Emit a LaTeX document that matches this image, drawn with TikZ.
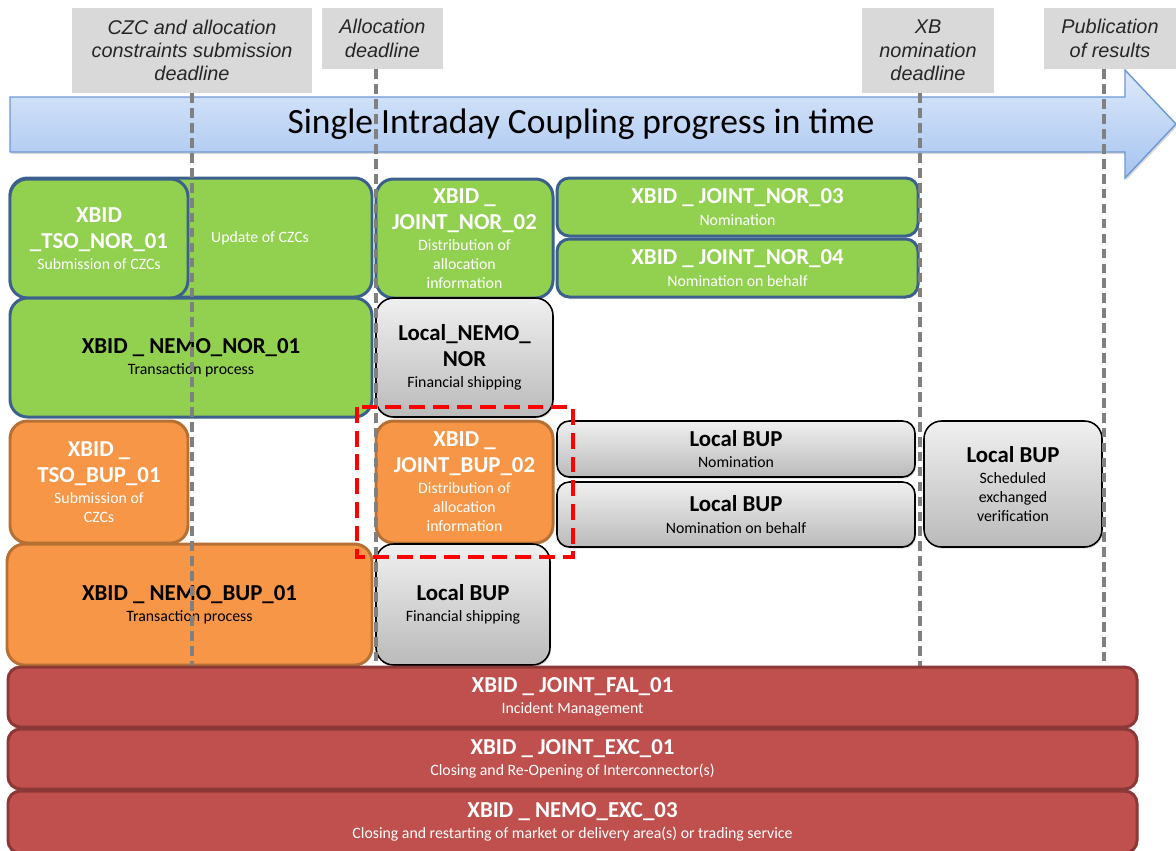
\documentclass[tikz,border=0pt]{standalone}
\usepackage{fontspec}
\setmainfont{Carlito}
\newfontfamily\arialfont{Liberation Sans}
\usepackage{tikz}
\usetikzlibrary{shadows}
\definecolor{boxgreen}{RGB}{146,208,80}
\definecolor{greenline}{RGB}{60,96,140}
\definecolor{boxorange}{RGB}{247,150,70}
\definecolor{orangeline}{RGB}{182,112,52}
\definecolor{boxred}{RGB}{192,80,77}
\definecolor{redline}{RGB}{140,56,54}
\definecolor{labelgray}{RGB}{217,217,217}
\definecolor{linegray}{RGB}{128,128,128}
\definecolor{arrowtop}{RGB}{221,233,251}
\definecolor{arrowbottom}{RGB}{166,196,239}
\definecolor{arrowline}{RGB}{108,152,214}
\newcommand{\ttl}[1]{{\fontsize{13}{15}\selectfont\bfseries #1}}
\tikzset{
  sz/.style 2 args={minimum width=#1*0.02cm, minimum height=#2*0.02cm},
  task/.style={rounded corners=10pt, line width=1.7pt, inner sep=0pt, align=center,
    font=\fontsize{9}{10.8}\selectfont},
  greenbox/.style={task, fill=boxgreen, draw=greenline, text=white},
  orangebox/.style={task, fill=boxorange, draw=orangeline, text=white},
  localbox/.style={task, line width=0.9pt, draw=black, top color=black!6, bottom color=black!27,
    text=black, drop shadow={opacity=0.3, shadow xshift=0.6pt, shadow yshift=-0.9pt}},
  redbox/.style={task, rounded corners=7pt, fill=boxred, draw=redline, text=white},
  deadline/.style={fill=labelgray, inner sep=0pt, align=center, text=black!85,
    font=\arialfont\itshape\fontsize{11.3}{13.3}\selectfont},
  timeline/.style={draw=linegray, line width=2.2pt, dash pattern=on 5.5pt off 3pt},
  focus/.style={draw=red, line width=2.8pt, dash pattern=on 9pt off 4.5pt},
}

\begin{document}
\begin{tikzpicture}[x=0.02cm, y=-0.02cm]
\useasboundingbox (0,0) rectangle (1176,850);

% time arrow
\path[top color=arrowtop, bottom color=arrowbottom, draw=arrowline, line width=0.8pt,
  drop shadow={opacity=0.3, shadow xshift=0.8pt, shadow yshift=-1.2pt}]
  (10,97) -- (1125,97) -- (1125,70) -- (1176,124) -- (1125,178) -- (1125,152) -- (10,152) -- cycle;
\node[font=\fontsize{20.2}{24}\selectfont] (sictitle) at (581,124) {Single Intraday Coupling progress in time};

% deadlines
\node[deadline, sz={240}{85}] (czc) at (192,50.5) {CZC and allocation\\constraints submission\\deadline};
\node[deadline, sz={121}{61}] (alloc) at (382.5,38.5) {Allocation\\deadline};
\node[deadline, sz={132}{85}] (xbnom) at (928,50.5) {XB\\nomination\\deadline};
\node[deadline, sz={132}{61}] (publ) at (1110,38.5) {Publication\\of results};

% normal procedures
\node[greenbox, sz={362}{119}] (updczc) at (191,237.5) {};
\node[font=\fontsize{9}{10.8}\selectfont, text=white] (updtxt) at (260,238) {Update of CZCs};
\node[greenbox, sz={178}{119}] (tsonor) at (99,238.5)
  {\ttl{XBID}\\[3.9pt]\ttl{\_TSO\_NOR\_01}\\[1.3pt]Submission of CZCs};
\node[greenbox, sz={177}{119}] (jnor2) at (464.5,238.5)
  {\ttl{XBID \_}\\[3.9pt]\ttl{JOINT\_NOR\_02}\\[1.3pt]Distribution of\\allocation\\information};
\node[greenbox, rounded corners=7pt, sz={361}{58}] (jnor3) at (737.5,207)
  {\ttl{XBID \_ JOINT\_NOR\_03}\\[1.3pt]Nomination};
\node[greenbox, rounded corners=7pt, sz={361}{58}] (jnor4) at (737.5,268)
  {\ttl{XBID \_ JOINT\_NOR\_04}\\[1.3pt]Nomination on behalf};
\node[greenbox, text=black, sz={362}{119}] (nemonor) at (191,357.5)
  {\ttl{XBID \_ NEMO\_NOR\_01}\\[1.3pt]Transaction process};
\node[localbox, sz={177}{119}] (locnor) at (464.5,357.5)
  {\ttl{Local\_NEMO\_}\\[3.9pt]\ttl{NOR}\\[1.3pt]Financial shipping};

% backup procedures
\node[orangebox, sz={178}{122}] (tsobup) at (99,482)
  {\ttl{XBID \_}\\[3.9pt]\ttl{TSO\_BUP\_01}\\[1.3pt]Submission of\\CZCs};
\node[orangebox, sz={177}{122}] (jbup2) at (464.5,482)
  {\ttl{XBID \_}\\[3.9pt]\ttl{JOINT\_BUP\_02}\\[1.3pt]Distribution of\\allocation\\information};
\node[localbox, rounded corners=7pt, sz={358}{56}] (bupnom) at (736,449)
  {\ttl{Local BUP}\\[1.3pt]Nomination};
\node[localbox, rounded corners=7pt, sz={358}{65}] (bupbeh) at (736,514.5)
  {\ttl{Local BUP}\\[1.3pt]Nomination on behalf};
\node[localbox, sz={178}{126}] (bupver) at (1013,484)
  {\ttl{Local BUP}\\[1.3pt]Scheduled\\exchanged\\verification};
\node[orangebox, text=black, sz={365}{121}] (nemobup) at (189.5,604.5)
  {\ttl{XBID \_ NEMO\_BUP\_01}\\[1.3pt]Transaction process};
\node[localbox, sz={174}{121}] (bupfin) at (463,604.5)
  {\ttl{Local BUP}\\[1.3pt]Financial shipping};

% deadline lines
\coordinate (czcend) at (192,666);
\coordinate (allocend) at (376,666);
\coordinate (xbnomend) at (920,666);
\coordinate (publend) at (1104,666);
\draw[timeline] (czc.south -| czcend) -- (czcend);
\draw[timeline] (alloc.south -| allocend) -- (allocend);
\draw[timeline] (xbnom.south -| xbnomend) -- (xbnomend);
\draw[timeline] (publ.south -| publend) -- (publend);

% exception procedures
\node[redbox, sz={1129}{60}] (jfal1) at (572.5,697)
  {\ttl{XBID \_ JOINT\_FAL\_01}\\[1.3pt]Incident Management};
\node[redbox, sz={1129}{60}] (jexc1) at (572.5,759)
  {\ttl{XBID \_ JOINT\_EXC\_01}\\[1.3pt]Closing and Re-Opening of Interconnector(s)};
\node[redbox, sz={1129}{62}] (nexc3) at (572.5,822)
  {\ttl{XBID \_ NEMO\_EXC\_03}\\[1.3pt]Closing and restarting of market or delivery area(s) or trading service};

\draw[focus] (357,407) rectangle (573,557);
\end{tikzpicture}
\end{document}
